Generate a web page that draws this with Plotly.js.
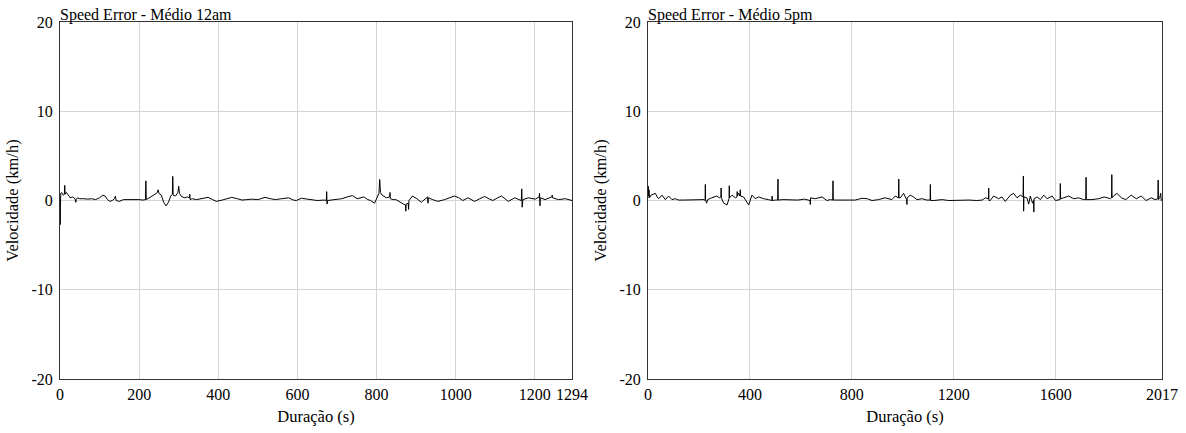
<!DOCTYPE html>
<html><head><meta charset="utf-8">
<script src="https://cdn.plot.ly/plotly-3.0.1.min.js"></script>
<style>html,body{margin:0;padding:0;background:#fff}#chart{width:1186px;height:433px}</style>
</head><body><div id="chart"></div>
<script>
// ---- data ----
var title12 = "Speed Error - Médio 12am";
var title5 = "Speed Error - Médio 5pm";
var xTicks12 = [0, 200, 400, 600, 800, 1000, 1200, 1294];
var xTicks5 = [0, 400, 800, 1200, 1600, 2017];
var yTicks = [-20, -10, 0, 10, 20];
var yTickText = ["-20", "-10", "0", "10", "20"];

var t12 = [0,0.5,1,2,4,8,11,12,13,16,20,26,32,38,40,41,44,50,60,70,80,90,100,108,114,120,126,132,138,140,142,150,160,170,180,190,200,210,216,217,218,222,230,240,246,248,250,256,262,268,274,280,284,285,286,292,298,300,302,306,314,322,327,328,329,334,345,360,374,386,395,410,434,448,460,472,485,500,518,532,544,560,578,590,597,610,620,633,650,668,673,674,675,676,685,700,712,726,739,751,768,778,785,795,800,806,808,810,814,825,833,834,835,842,849,856,861,868,873,874,875,880,881,882,891,902,913,922,929,930,931,942,955,972,986,997,1008,1018,1031,1048,1061,1073,1084,1094,1106,1116,1133,1149,1160,1166,1167,1168,1170,1184,1201,1211,1212,1213,1214,1226,1236,1243,1244,1245,1260,1277,1294];
var v12 = [0.2,-2.7,-0.5,0.8,0.9,0.6,0.7,1.7,0.7,0.9,0.6,0.3,0.4,0.2,-0.2,0.1,0.3,0.2,0.2,0.15,0.2,0.1,0.3,0.6,0.5,0.1,-0.1,0.0,0.2,0.5,0.0,-0.1,0.1,0.1,0.15,0.1,0.1,0.05,0.1,2.2,0.1,0.2,0.4,0.7,0.9,1.2,0.8,0.6,-0.2,-0.6,-0.2,0.5,0.7,2.7,0.6,0.5,0.9,1.6,0.8,0.5,0.3,0.4,0.3,0.7,0.1,0.2,0.1,0.2,0.35,0.1,-0.1,0.05,0.35,0.2,0.05,0.1,0.15,0.1,0.35,0.2,0.1,0.2,0.3,0.05,0.0,0.25,0.2,0.1,0.0,0.05,0.0,1.0,-0.4,0.0,0.05,0.1,0.2,0.4,0.55,0.2,0.4,0.1,0.0,-0.3,0.2,0.8,2.35,0.9,0.6,0.3,0.4,0.9,0.2,0.1,0.1,-0.1,-0.3,-0.4,-0.5,-1.2,-0.4,-0.3,-1.0,0.0,0.5,0.2,-0.2,0.1,0.4,-0.3,0.3,0.1,-0.1,0.1,0.3,0.5,0.3,0.0,0.3,-0.1,0.2,0.45,0.2,0.0,0.3,0.5,-0.1,0.3,0.1,0.0,1.3,-0.75,0.1,0.3,0.15,0.4,0.8,-0.6,0.3,0.1,0.3,0.4,0.6,0.3,0.1,0.2,0.0];

var t5 = [0,1,2,4,6,12,20,29,36,42,55,68,81,94,107,120,140,160,180,200,220,224,225,226,230,234,250,270,280,286,287,288,297,310,318,319,320,330,343,349,350,351,356,361,362,363,375,388,395,408,421,434,454,473,486,487,488,500,509,510,511,530,549,570,588,615,630,636,637,638,656,670,683,702,715,725,726,727,735,760,790,813,827,840,860,879,905,930,957,970,983,984,985,990,1003,1015,1016,1017,1029,1042,1055,1075,1094,1107,1108,1109,1121,1140,1154,1180,1220,1260,1290,1311,1324,1336,1337,1338,1343,1356,1376,1389,1402,1422,1435,1448,1461,1472,1473,1474,1475,1487,1494,1500,1509,1513,1514,1515,1527,1540,1553,1566,1586,1599,1617,1618,1619,1631,1651,1670,1690,1709,1718,1719,1720,1742,1769,1790,1802,1815,1819,1820,1821,1826,1840,1858,1875,1896,1916,1935,1955,1975,1990,2001,2002,2003,2008,2012,2014,2017];
var v5 = [0.3,1.6,0.5,1.2,0.3,0.6,0.7,0.8,0.4,0.2,0.6,0.1,0.5,0.1,0.2,0.05,0.05,0.05,0.05,0.05,0.1,0.0,1.8,0.1,-0.3,0.1,0.3,0.5,0.3,0.4,1.4,0.3,-0.3,-0.5,0.2,1.65,0.3,0.6,0.3,0.4,1.0,0.5,0.8,0.5,1.2,0.5,0.4,-0.3,-0.5,0.6,0.2,0.4,0.2,0.1,0.0,0.5,0.0,0.05,0.05,2.4,0.05,0.1,0.1,0.05,0.05,0.15,0.1,0.0,-0.45,0.3,0.2,0.3,0.4,0.0,0.1,0.05,2.2,0.05,0.05,0.05,0.05,0.05,0.15,0.25,0.2,0.0,0.1,0.3,0.1,0.5,0.3,2.4,0.3,0.3,0.8,0.1,-0.45,0.3,0.6,0.4,0.1,0.2,0.05,0.05,1.8,0.0,0.0,0.05,0.1,0.0,0.05,0.05,0.0,0.05,0.3,0.2,1.4,0.0,0.0,0.5,0.2,0.4,-0.1,0.6,0.8,0.3,0.6,0.4,2.75,-1.2,0.4,0.3,-0.4,0.5,-0.3,0.0,-1.3,0.2,0.4,0.1,0.6,0.2,0.5,0.0,0.1,1.9,0.2,0.3,0.5,0.2,0.3,0.1,0.1,2.6,0.1,0.1,0.2,0.4,0.3,0.2,0.3,2.9,0.3,0.5,0.8,0.3,0.1,0.6,0.2,0.5,0.0,0.3,0.1,0.2,2.3,0.1,0.3,0.8,0.0,0.1];

// ---- chart ----
var serif = "Liberation Serif";
var tickFont = {family: serif, size: 16, color: "#000"};
var titleFont = {family: serif, size: 16.5, color: "#000"};
function xax(domain, ticks, maxv) {
  return {domain: domain, range: [0, maxv], tickvals: ticks, ticktext: ticks.map(String),
    showgrid: true, gridcolor: "#d4d4d4", gridwidth: 1, zeroline: false,
    showline: true, linecolor: "#333", linewidth: 1, mirror: true,
    ticks: "outside", ticklen: 1, tickcolor: "rgba(0,0,0,0)", tickfont: tickFont,
    title: {text: "Duração (s)", font: titleFont, standoff: 8},
    fixedrange: true};
}
function yax(domain, anchor) {
  return {domain: domain, anchor: anchor, range: [-20, 20], tickvals: yTicks, ticktext: yTickText,
    showgrid: true, gridcolor: "#d4d4d4", gridwidth: 1, zeroline: false,
    showline: true, linecolor: "#333", linewidth: 1, mirror: true,
    ticks: "outside", ticklen: 3, tickcolor: "rgba(0,0,0,0)", tickfont: tickFont,
    title: {text: "Velocidade (km/h)", font: titleFont, standoff: 8},
    fixedrange: true};
}
var W = 1186, H = 433;
var xd1 = [60 / W, 572 / W], xd2 = [648 / W, 1162 / W];
var yd = [(H - 379) / H, (H - 22) / H];

var traces = [
  {x: t12, y: v12, type: "scatter", mode: "lines", line: {color: "#000", width: 1}, xaxis: "x", yaxis: "y", hoverinfo: "skip"},
  {x: t5, y: v5, type: "scatter", mode: "lines", line: {color: "#000", width: 1}, xaxis: "x2", yaxis: "y2", hoverinfo: "skip"}
];
var xa1 = xax(xd1, xTicks12, 1294); xa1.anchor = "y";
var xa2 = xax(xd2, xTicks5, 2017); xa2.anchor = "y2";
var layout = {
  width: W, height: H, margin: {l: 0, r: 0, t: 0, b: 0}, showlegend: false,
  font: {family: serif, size: 16, color: "#000"},
  paper_bgcolor: "#fff", plot_bgcolor: "#fff",
  xaxis: xa1, yaxis: yax(yd, "x"), xaxis2: xa2, yaxis2: yax(yd, "x2"),
  annotations: [
    {text: title12, xref: "paper", yref: "paper", x: xd1[0], y: yd[1], xanchor: "left", yanchor: "bottom", showarrow: false, xshift: -2, yshift: -4, font: {family: serif, size: 16, color: "#000"}},
    {text: title5, xref: "paper", yref: "paper", x: xd2[0], y: yd[1], xanchor: "left", yanchor: "bottom", showarrow: false, xshift: -2, yshift: -4, font: {family: serif, size: 16, color: "#000"}}
  ]
};
Plotly.newPlot("chart", traces, layout, {displayModeBar: false, staticPlot: true});
</script></body></html>
